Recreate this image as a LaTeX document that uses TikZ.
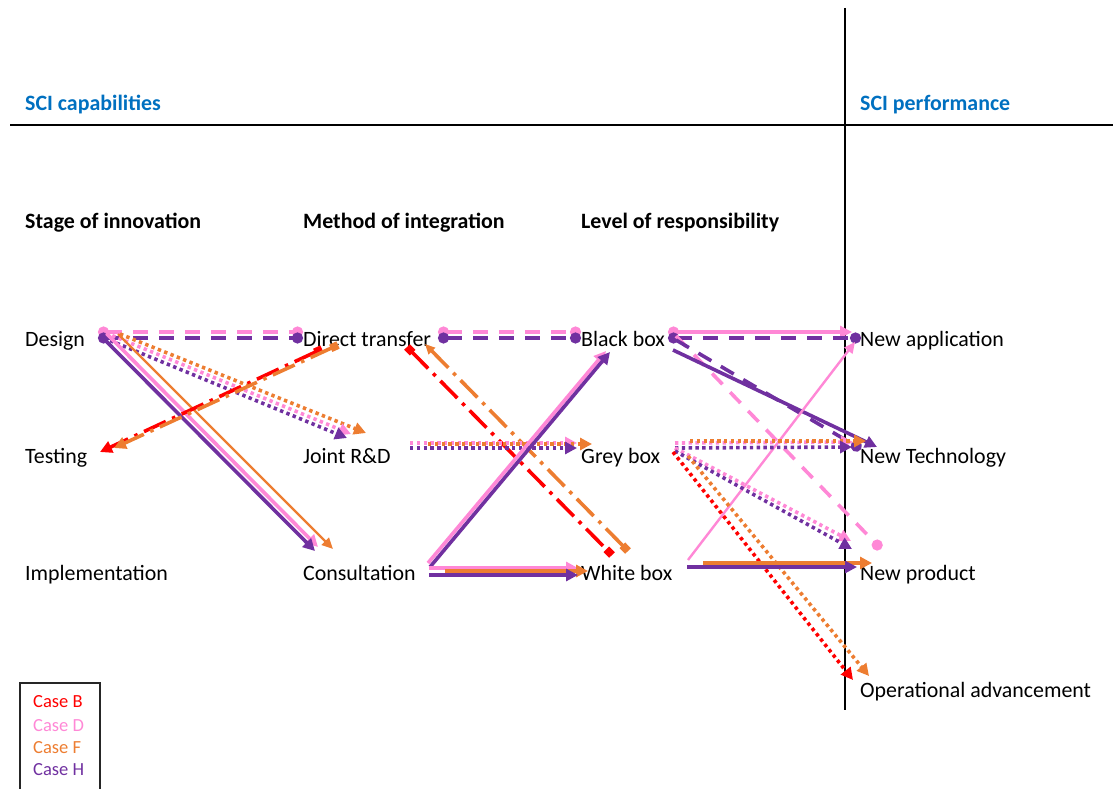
\documentclass[tikz,border=0pt]{standalone}
\usepackage{fontspec}
\setmainfont{Carlito}
\usetikzlibrary{arrows.meta}

\definecolor{cB}{HTML}{FF0000}
\definecolor{cD}{HTML}{FF88D6}
\definecolor{cF}{HTML}{ED7D31}
\definecolor{cH}{HTML}{7030A0}
\definecolor{sciblue}{HTML}{0070C0}

\tikzset{
  lbl/.style={anchor=base west, inner sep=0pt, font=\fontsize{21.9}{26}\selectfont},
  hdr/.style={anchor=base west, inner sep=0pt, font=\fontsize{21.9}{26}\selectfont\bfseries},
  legtxt/.style={anchor=base west, inner sep=0pt, font=\fontsize{18.5}{22}\selectfont},
  solidln/.style={line width=3.6pt},
  thinln/.style={line width=2.4pt},
  dotln/.style={line width=3.6pt, dash pattern=on 3.4pt off 3.4pt},
  dashln/.style={line width=3.6pt, dash pattern=on 15pt off 11pt},
  ddln/.style={line width=3.6pt, dash pattern=on 24pt off 7pt on 3.5pt off 7pt},
  tri/.style={-{Triangle[length=12pt,width=12pt]}},
  trithin/.style={-{Triangle[length=11pt,width=10pt]}},
  cc/.style={{Circle[length=11pt]}-{Circle[length=11pt]}},
  ctri/.style={{Circle[length=11pt]}-{Triangle[length=12pt,width=12pt]}},
  sqtri/.style={{Square[length=8pt]}-{Triangle[length=12pt,width=12pt]}},
  sqsq/.style={{Square[length=8pt]}-{Square[length=8pt]}},
  trisq/.style={{Triangle[length=10pt,width=9pt]}-{Square[length=8pt]}},
}

\begin{document}
\begin{tikzpicture}[x=1pt,y=-1pt]
\useasboundingbox (0,0) rectangle (1113,789);

% frame lines
\coordinate (vtop) at (845,8);
\coordinate (vbot) at (845,710);
\coordinate (hl) at (10,125);
\coordinate (hr) at (1113,125);
\draw[line width=1.4pt] (vtop) -- (vbot);
\draw[line width=1.4pt] (hl) -- (hr);

% headings
\node[hdr, text=sciblue] (capab) at (25,111) {SCI capabilities};
\node[hdr, text=sciblue] (perf) at (860,111) {SCI performance};
\node[hdr] (h1) at (25,228) {Stage of innovation};
\node[hdr] (h2) at (303,228) {Method of integration};
\node[hdr] (h3) at (581,228) {Level of responsibility};

% column labels
\node[lbl] (design) at (25,346) {Design};
\node[lbl] (testing) at (25,463) {Testing};
\node[lbl] (impl) at (25,580) {Implementation};
\node[lbl] (dt) at (303,346) {Direct transfer};
\node[lbl] (jrd) at (303,463) {Joint R\&D};
\node[lbl] (cons) at (303,580) {Consultation};
\node[lbl] (bb) at (581,346) {Black box};
\node[lbl] (gb) at (581,463) {Grey box};
\node[lbl] (wb) at (581,580) {White box};
\node[lbl] (napp) at (860,346) {New application};
\node[lbl] (ntech) at (860,463) {New Technology};
\node[lbl] (nprod) at (860,580) {New product};
\node[lbl] (opadv) at (860,697) {Operational advancement};

% legend
\coordinate (lgA) at (20,795);
\coordinate (lgB) at (20,683);
\coordinate (lgC) at (100,683);
\coordinate (lgD) at (100,795);
\draw[line width=1.5pt, black!85] (lgA) -- (lgB) -- (lgC) -- (lgD);
\node[legtxt, text=cB] (legB) at (33,707) {Case B};
\node[legtxt, text=cD] (legD) at (33,731) {Case D};
\node[legtxt, text=cF] (legF) at (33,753) {Case F};
\node[legtxt, text=cH] (legH) at (33,775) {Case H};

% ---------- stage of innovation -> method of integration ----------
\coordinate (a1s) at (98,332); \coordinate (a1e) at (303,332);
\coordinate (a2s) at (98,338); \coordinate (a2e) at (303,338);
\coordinate (a3s) at (107,334); \coordinate (a3e) at (318,547);
\coordinate (a4s) at (103,338); \coordinate (a4e) at (315,551);
\coordinate (a5s) at (118,334); \coordinate (a5e) at (333,549);
\coordinate (a6s) at (120,334); \coordinate (a6e) at (366,433);
\coordinate (a7s) at (106,333); \coordinate (a7e) at (351,434);
\coordinate (a8s) at (104,338); \coordinate (a8e) at (347,438);
\coordinate (a9s) at (322,349); \coordinate (a9e) at (100,452);
\coordinate (a10s) at (338,345); \coordinate (a10e) at (114,448);

\draw[dashln, cD, cc] (a1s) -- (a1e);
\draw[dashln, cH, cc] (a2s) -- (a2e);
\draw[dotln, cF, tri] (a6s) -- (a6e);
\draw[dotln, cD, tri] (a7s) -- (a7e);
\draw[dotln, cH, tri] (a8s) -- (a8e);
\draw[solidln, cD, tri] (a3s) -- (a3e);
\draw[solidln, cH, tri] (a4s) -- (a4e);
\draw[thinln, cF, trithin] (a5s) -- (a5e);
\draw[ddln, cB, sqtri] (a9s) -- (a9e);
\draw[ddln, cF, sqtri] (a10s) -- (a10e);

% ---------- method of integration -> level of responsibility ----------
\coordinate (b1s) at (438,332); \coordinate (b1e) at (581,332);
\coordinate (b2s) at (438,338); \coordinate (b2e) at (581,338);
\coordinate (b3s) at (407,347); \coordinate (b3e) at (612,555);
\coordinate (b4s) at (425,344); \coordinate (b4e) at (628,551);
\coordinate (b5s) at (410,443); \coordinate (b5e) at (577,443);
\coordinate (b6s) at (428,444); \coordinate (b6e) at (592,444);
\coordinate (b7s) at (410,448); \coordinate (b7e) at (577,448);
\coordinate (b8s) at (428,563); \coordinate (b8e) at (606,351);
\coordinate (b9s) at (430,567); \coordinate (b9e) at (610,352);
\coordinate (b10s) at (429,568); \coordinate (b10e) at (578,568);
\coordinate (b11s) at (445,571); \coordinate (b11e) at (588,571);
\coordinate (b12s) at (429,575); \coordinate (b12e) at (578,575);

\draw[dashln, cD, cc] (b1s) -- (b1e);
\draw[dashln, cH, cc] (b2s) -- (b2e);
\draw[ddln, cB, sqsq] (b3s) -- (b3e);
\draw[ddln, cF, trisq] (b4s) -- (b4e);
\draw[dotln, cD, tri] (b5s) -- (b5e);
\draw[dotln, cF, tri] (b6s) -- (b6e);
\draw[dotln, cH, tri] (b7s) -- (b7e);
\draw[solidln, cD, tri] (b8s) -- (b8e);
\draw[solidln, cH, tri] (b9s) -- (b9e);
\draw[solidln, cD, tri] (b10s) -- (b10e);
\draw[solidln, cF, tri] (b11s) -- (b11e);
\draw[solidln, cH, tri] (b12s) -- (b12e);

% ---------- level of responsibility -> SCI performance ----------
\coordinate (c1s) at (668,332); \coordinate (c1e) at (852,332);
\coordinate (c2s) at (668,338); \coordinate (c2e) at (861,338);
\coordinate (c3s) at (673,350); \coordinate (c3e) at (877,447);
\coordinate (c4s) at (676,340); \coordinate (c4e) at (861,449);
\coordinate (c5s) at (676,336); \coordinate (c5e) at (881,549);
\coordinate (c6s) at (688,560); \coordinate (c6e) at (855,342);
\coordinate (c7s) at (703,563); \coordinate (c7e) at (872,563);
\coordinate (c8s) at (687,567); \coordinate (c8e) at (857,567);
\coordinate (c9s) at (675,443); \coordinate (c9e) at (853,442);
\coordinate (c10s) at (690,441); \coordinate (c10e) at (866,441);
\coordinate (c11s) at (675,448); \coordinate (c11e) at (852,447);
\coordinate (c12s) at (675,448); \coordinate (c12e) at (851,541);
\coordinate (c13s) at (675,451); \coordinate (c13e) at (852,549);
\coordinate (c14s) at (673,452); \coordinate (c14e) at (853,680);
\coordinate (c15s) at (688,456); \coordinate (c15e) at (869,676);

\draw[solidln, cD, ctri] (c1s) -- (c1e);
\draw[dashln, cH, cc] (c2s) -- (c2e);
\draw[dashln, cD, -{Circle[length=11pt]}] (c5s) -- (c5e);
\draw[dashln, cH, -{Circle[length=11pt]}] (c4s) -- (c4e);
\draw[solidln, cH, tri] (c3s) -- (c3e);
\draw[thinln, cD, trithin] (c6s) -- (c6e);
\draw[dotln, cD, tri] (c9s) -- (c9e);
\draw[dotln, cF, tri] (c10s) -- (c10e);
\draw[dotln, cH, tri] (c11s) -- (c11e);
\draw[dotln, cD, tri] (c12s) -- (c12e);
\draw[dotln, cH, tri] (c13s) -- (c13e);
\draw[dotln, cB, tri] (c14s) -- (c14e);
\draw[dotln, cF, tri] (c15s) -- (c15e);
\draw[solidln, cF, tri] (c7s) -- (c7e);
\draw[solidln, cH, tri] (c8s) -- (c8e);
\end{tikzpicture}
\end{document}
